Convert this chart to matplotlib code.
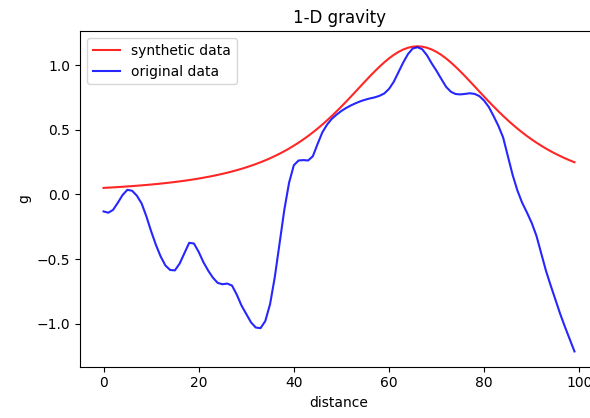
import matplotlib
matplotlib.use("Agg")
import matplotlib.pyplot as plt
import numpy as np

# sample positions along the profile
distance = np.arange(100)

# modelled (synthetic) gravity anomaly
synthetic = [
    0.0498, 0.0519, 0.0540, 0.0563, 0.0587, 0.0612, 0.0638, 0.0666, 0.0696, 0.0727,
    0.0760, 0.0795, 0.0832, 0.0872, 0.0913, 0.0958, 0.1005, 0.1054, 0.1107, 0.1164,
    0.1224, 0.1288, 0.1356, 0.1428, 0.1505, 0.1588, 0.1675, 0.1769, 0.1869, 0.1976,
    0.2091, 0.2213, 0.2343, 0.2483, 0.2632, 0.2791, 0.2962, 0.3143, 0.3337, 0.3544,
    0.3765, 0.4000, 0.4249, 0.4513, 0.4793, 0.5089, 0.5400, 0.5727, 0.6069, 0.6425,
    0.6794, 0.7173, 0.7561, 0.7955, 0.8351, 0.8746, 0.9134, 0.9511, 0.9870, 1.0206,
    1.0514, 1.0786, 1.1017, 1.1203, 1.1339, 1.1422, 1.1450, 1.1422, 1.1339, 1.1203,
    1.1017, 1.0786, 1.0514, 1.0206, 0.9870, 0.9511, 0.9134, 0.8746, 0.8351, 0.7955,
    0.7561, 0.7173, 0.6794, 0.6425, 0.6069, 0.5727, 0.5400, 0.5089, 0.4793, 0.4513,
    0.4249, 0.4000, 0.3765, 0.3544, 0.3337, 0.3143, 0.2962, 0.2791, 0.2632, 0.2483,
]

# observed gravity profile
original = [
    -0.132, -0.142, -0.120, -0.065, -0.005, 0.035, 0.028, -0.010, -0.070, -0.170,
    -0.285, -0.390, -0.480, -0.550, -0.585, -0.588, -0.535, -0.455, -0.375, -0.380,
    -0.445, -0.525, -0.590, -0.645, -0.685, -0.695, -0.690, -0.705, -0.775, -0.860,
    -0.925, -0.990, -1.030, -1.035, -0.980, -0.850, -0.640, -0.380, -0.120, 0.090,
    0.225, 0.262, 0.265, 0.262, 0.295, 0.390, 0.480, 0.540, 0.585, 0.617,
    0.645, 0.668, 0.688, 0.705, 0.720, 0.732, 0.742, 0.750, 0.762, 0.780,
    0.815, 0.870, 0.945, 1.020, 1.085, 1.128, 1.138, 1.122, 1.075, 1.012,
    0.955, 0.893, 0.832, 0.794, 0.776, 0.773, 0.777, 0.782, 0.777, 0.760,
    0.725, 0.675, 0.605, 0.530, 0.440, 0.295, 0.150, 0.030, -0.065, -0.140,
    -0.220, -0.320, -0.455, -0.590, -0.705, -0.815, -0.925, -1.025, -1.120, -1.215,
]

fig = plt.figure(figsize=(5.9, 4.18), dpi=100)
ax = fig.add_axes([0.1356, 0.1227, 0.878, 0.803])

ax.plot(distance, synthetic, color="r", alpha=0.85, label="synthetic data")
ax.plot(distance, original, color="b", alpha=0.85, label="original data")

ax.set_title("1-D gravity")
ax.set_xlabel("distance")
ax.set_ylabel("g")
ax.legend(loc="upper left")

fig.savefig("out.png", dpi=100)
